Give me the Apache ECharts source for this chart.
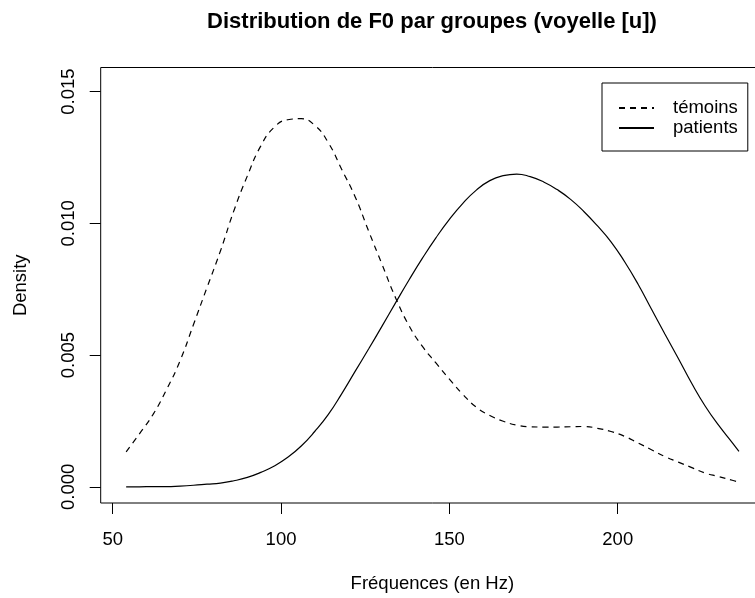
<!DOCTYPE html>
<html>
<head>
<meta charset="utf-8">
<script src="https://cdn.jsdelivr.net/npm/echarts@6/dist/echarts.min.js"></script>
<style>
html, body { margin: 0; padding: 0; background: #fff; overflow: hidden; width: 755px; height: 598px; }
#chart { width: 864px; height: 598px; }
</style>
</head>
<body>
<div id="chart"></div>
<script>
// Frequencies (Hz) at which the density curves were read
const freq = [54, 58, 62, 66, 70, 74, 78, 82, 86, 90, 94, 98, 102, 106, 110, 114, 118, 122, 126, 130, 134, 138, 142, 146, 150, 154, 158, 162, 166, 170, 174, 178, 182, 186, 190, 194, 198, 202, 206, 210, 214, 218, 222, 226, 230, 234, 236];
// Density, témoins (dashed)
const temoins = [0.00133, 0.00202, 0.00275, 0.00369, 0.00478, 0.00616, 0.00756, 0.00895, 0.01048, 0.01180, 0.01294, 0.01365, 0.01393, 0.01397, 0.01372, 0.01307, 0.01205, 0.01101, 0.00971, 0.00844, 0.00718, 0.00612, 0.00533, 0.00470, 0.00409, 0.00351, 0.00302, 0.00271, 0.00249, 0.00234, 0.00228, 0.00227, 0.00227, 0.00228, 0.00229, 0.00222, 0.00210, 0.00192, 0.00167, 0.00141, 0.00115, 0.00094, 0.00073, 0.00052, 0.00039, 0.00025, 0.00017];
// Density, patients (solid)
const patients = [0.00000, 0.00000, 0.00001, 0.00001, 0.00003, 0.00006, 0.00010, 0.00014, 0.00023, 0.00036, 0.00055, 0.00079, 0.00112, 0.00155, 0.00210, 0.00274, 0.00353, 0.00438, 0.00523, 0.00610, 0.00698, 0.00785, 0.00868, 0.00945, 0.01015, 0.01076, 0.01126, 0.01162, 0.01181, 0.01187, 0.01177, 0.01157, 0.01128, 0.01091, 0.01044, 0.00990, 0.00930, 0.00855, 0.00770, 0.00675, 0.00580, 0.00487, 0.00392, 0.00306, 0.00233, 0.00168, 0.00135];
// Tick values
const xTicks = [50, 100, 150, 200];
const yTicks = [0, 0.005, 0.010, 0.015];

const FONT = "'Liberation Sans', Arial, Helvetica, sans-serif";
const chart = echarts.init(document.getElementById('chart'), null, { renderer: 'canvas' });

const option = {
  animation: false,
  backgroundColor: '#ffffff',
  title: {
    text: 'Distribution de F0 par groupes (voyelle [u])',
    left: 'center',
    top: 6,
    textStyle: { fontFamily: FONT, fontWeight: 'bold', fontSize: 22, color: '#000' }
  },
  legend: {
    left: 602,
    top: 83,
    orient: 'vertical',
    itemWidth: 35,
    itemHeight: 20,
    itemGap: 0,
    padding: [15, 10, 13, 16],
    borderColor: '#000',
    borderWidth: 1,
    borderRadius: 0,
    itemStyle: { color: 'rgba(0,0,0,0)', borderColor: 'rgba(0,0,0,0)', borderWidth: 0, opacity: 0 },
    textStyle: { fontFamily: FONT, fontSize: 18.5, color: '#000', lineHeight: 20, padding: [0, 0, 0, 14] },
    data: [{ name: 'témoins' }, { name: 'patients' }]
  },
  grid: {
    left: 100.7,
    top: 67.5,
    width: 663.3,
    height: 436,
    show: true,
    borderColor: '#000',
    borderWidth: 1,
    backgroundColor: 'transparent'
  },
  xAxis: {
    type: 'value',
    min: 46.44,
    max: 243.44,
    name: 'Fréquences (en Hz)',
    nameLocation: 'middle',
    nameGap: 71,
    nameTextStyle: { fontFamily: FONT, fontSize: 18.5, color: '#000' },
    axisLine: { show: false, onZero: false },
    splitLine: { show: false },
    axisTick: { show: true, inside: false, length: 11, customValues: xTicks, lineStyle: { color: '#000', width: 1 } },
    axisLabel: { show: true, customValues: xTicks, margin: 27, fontFamily: FONT, fontSize: 18.5, color: '#000' }
  },
  yAxis: {
    type: 'value',
    min: -0.000613,
    max: 0.015913,
    name: 'Density',
    nameLocation: 'middle',
    nameGap: 70,
    nameRotate: 90,
    nameTextStyle: { fontFamily: FONT, fontSize: 18.5, color: '#000' },
    axisLine: { show: false, onZero: false },
    splitLine: { show: false },
    axisTick: { show: true, inside: false, length: 11, customValues: yTicks, lineStyle: { color: '#000', width: 1 } },
    axisLabel: {
      show: true, customValues: yTicks, rotate: 90, margin: 22,
      fontFamily: FONT, fontSize: 18.5, color: '#000',
      formatter: function (v) { return v.toFixed(3); }
    }
  },
  series: [
    {
      name: 'témoins',
      type: 'line',
      smooth: 0.5,
      symbol: 'none',
      data: freq.map(function (f, i) { return [f, temoins[i]]; }),
      lineStyle: { color: '#000', width: 1.2, type: [6, 5] },
      itemStyle: { color: '#000' }
    },
    {
      name: 'patients',
      type: 'line',
      smooth: 0.5,
      symbol: 'none',
      data: freq.map(function (f, i) { return [f, patients[i]]; }),
      lineStyle: { color: '#000', width: 1.2, type: 'solid' },
      itemStyle: { color: '#000' }
    }
  ]
};
chart.setOption(option);
</script>
</body>
</html>
